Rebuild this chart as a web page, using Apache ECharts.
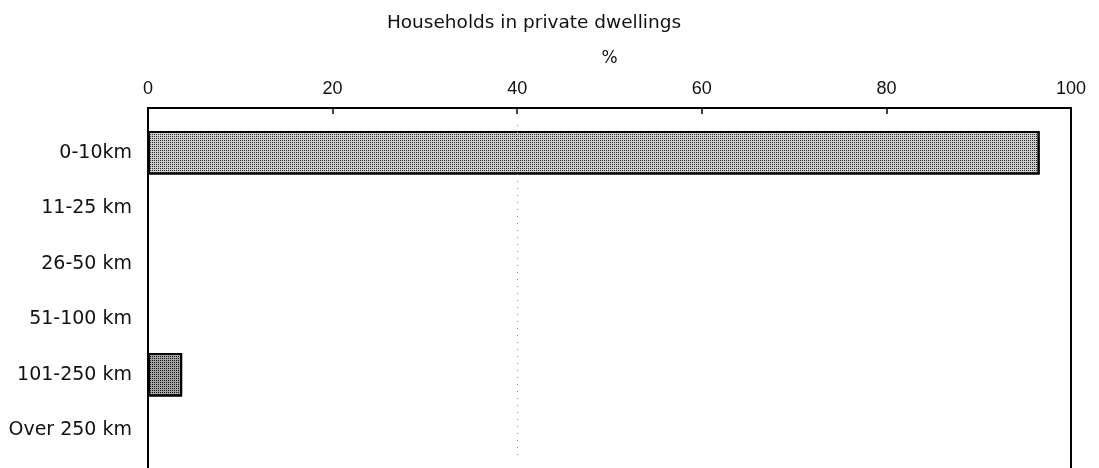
<!DOCTYPE html>
<html>
<head>
<meta charset="utf-8">
<script src="https://cdn.jsdelivr.net/npm/echarts@6/dist/echarts.min.js"></script>
<style>
html,body{margin:0;padding:0;background:#fff;}
#c{width:1099px;height:468px;}
</style>
</head>
<body>
<div id="c"></div>
<script>
const title = 'Households in private dwellings';
const axisName = '%';
const categories = ['0-10km', '11-25 km', '26-50 km', '51-100 km', '101-250 km', 'Over 250 km'];
const values = [96.6, 0, 0, 0, 3.7, 0];
const xTicks = [0, 20, 40, 60, 80, 100];

const font = 'DejaVu Sans';
const numFont = 'Liberation Sans';
const chart = echarts.init(document.getElementById('c'), null, {renderer: 'canvas'});

const data = values.map((v, i) => ({
  value: v,
  itemStyle: {
    color: i === 4 ? '#a4a4a4' : '#cdcdcd',
    borderColor: '#000',
    borderWidth: 2,
    decal: {
      symbol: 'rect',
      symbolSize: 1,
      dashArrayX: [1, 1],
      dashArrayY: [1, 1],
      color: i === 4 ? '#111' : '#2a2a2a'
    }
  }
}));

const frameAxis = (pos) => ({
  type: 'category', gridIndex: 1, data: categories, position: pos,
  axisLine: {show: true, lineStyle: {color: '#000', width: 2}},
  axisTick: {show: false}, axisLabel: {show: false}, splitLine: {show: false}
});

chart.setOption({
  animation: false,
  backgroundColor: '#fff',
  title: {
    text: title,
    left: 529,
    top: 9,
    textAlign: 'center',
    textStyle: {fontFamily: font, fontSize: 18.5, fontWeight: 'normal', color: '#111'}
  },
  grid: [
    {left: 148, right: 28, top: 125, bottom: 10, containLabel: false},
    {left: 148, right: 28, top: 108, height: 380, containLabel: false}
  ],
  xAxis: [{
    type: 'value',
    gridIndex: 0,
    position: 'top',
    offset: 17,
    min: xTicks[0],
    max: xTicks[xTicks.length - 1],
    interval: xTicks[1] - xTicks[0],
    name: axisName,
    nameLocation: 'middle',
    nameGap: 41,
    nameTextStyle: {fontFamily: font, fontSize: 17, color: '#111'},
    axisLine: {show: true, lineStyle: {color: '#000', width: 2}},
    axisTick: {show: true, inside: true, length: 6, lineStyle: {color: '#000', width: 1.5}},
    axisLabel: {fontFamily: numFont, fontSize: 18, color: '#111', margin: 10},
    splitLine: {show: false}
  }, {
    type: 'value', gridIndex: 1, min: 0, max: 100, show: false
  }],
  yAxis: [{
    type: 'category',
    gridIndex: 0,
    data: categories,
    inverse: true,
    axisLine: {show: false},
    axisTick: {show: false},
    axisLabel: {fontFamily: font, fontSize: 19, color: '#111', margin: 16}
  }, frameAxis('left'), frameAxis('right')],
  series: [{
    type: 'bar',
    xAxisIndex: 0,
    yAxisIndex: 0,
    data: data,
    barCategoryGap: '22%',
    markLine: {
      silent: true,
      symbol: 'none',
      label: {show: false},
      lineStyle: {color: '#888', type: [1, 6], width: 1},
      data: [{xAxis: 40}]
    }
  }]
});
</script>
</body>
</html>
